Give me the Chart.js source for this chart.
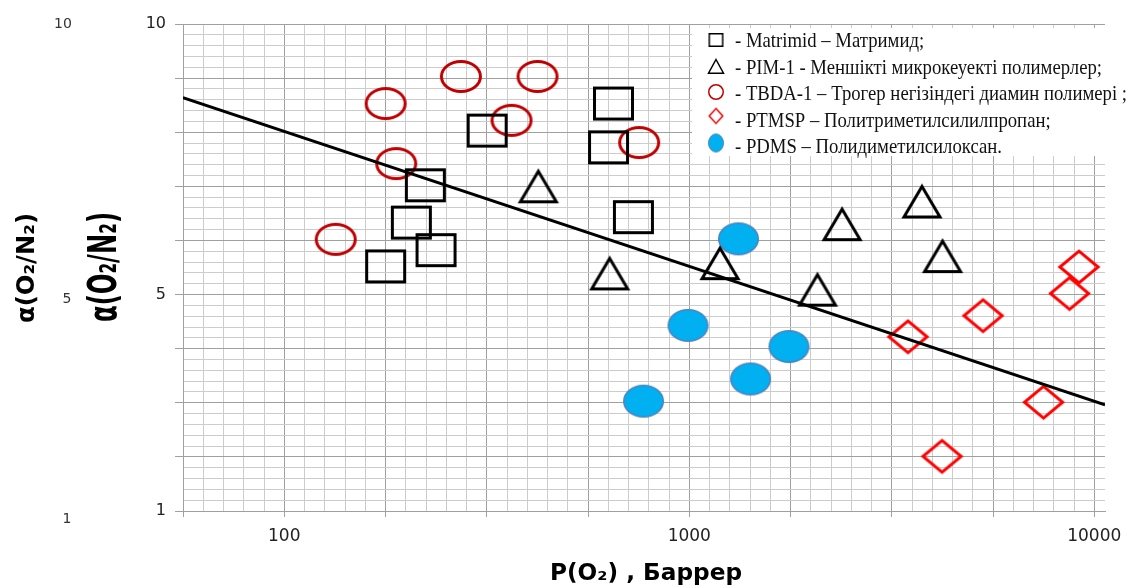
<!DOCTYPE html>
<html>
<head>
<meta charset="utf-8">
<script src="https://cdn.jsdelivr.net/npm/chart.js@4"></script>
<style>
  html, body { margin: 0; padding: 0; background: #fff; }
</style>
</head>
<body>
<canvas id="myChart" width="1135" height="588"></canvas>
<script>
// Деректер: P(O2), Баррер және α(O2/N2)
const matrimidP = [317, 223, 206, 237, 178, 650, 632, 728];
const matrimidA = [8.03, 7.02, 6.33, 5.82, 5.52, 8.53, 7.72, 6.43];
const pimP = [424, 636, 1191, 2384, 2073, 3755, 4220];
const pimA = [7.01, 5.40, 5.59, 6.31, 5.10, 6.73, 5.72];
const tbdaP = [178, 273, 422, 364, 189, 134, 752];
const tbdaA = [8.53, 9.03, 9.03, 8.22, 7.42, 6.02, 7.81];
const ptmspP = [3468, 5313, 9168, 8687, 7493, 4208];
const ptmspA = [4.22, 4.61, 5.51, 5.02, 3.01, 2.01];
const pdmsP = [1323, 993, 1763, 1417, 771];
const pdmsA = [6.03, 4.43, 4.04, 3.44, 3.03];
const trendP = [56.2, 10630];
const trendA = [8.64, 2.96];

const xTickLabels = [100, 1000, 10000];
const yTickLabels = [1, 5, 10];
const legendNames = [
  '- Matrimid – Матримид;',
  '- PIM-1 - Меншікті микрокеуекті полимерлер;',
  '- TBDA-1 – Трогер негізіндегі диамин полимері ;',
  '- PTMSP – Политриметилсилилпропан;',
  '- PDMS – Полидиметилсилоксан.'
];

const X_MIN = Math.pow(10, 1.75);
const X_MAX = Math.pow(10, 4.0265);

// маркерлер
function makeMarker(kind, w, h, lw, stroke, fill) {
  const pad = 4;
  const c = document.createElement('canvas');
  c.width = w + pad * 2;
  c.height = h + pad * 2;
  const g = c.getContext('2d');
  g.lineWidth = lw;
  g.strokeStyle = stroke;
  g.lineJoin = 'miter';
  const x0 = pad, y0 = pad, x1 = pad + w, y1 = pad + h;
  const cx = (x0 + x1) / 2, cy = (y0 + y1) / 2, i = lw / 2;
  g.beginPath();
  if (kind === 'rect') g.rect(x0 + i, y0 + i, w - lw, h - lw);
  else if (kind === 'ellipse') g.ellipse(cx, cy, w / 2 - i, h / 2 - i, 0, 0, Math.PI * 2);
  else if (kind === 'triangle') {
    g.moveTo(cx, y0 + lw);
    g.lineTo(x1 - lw, y1 - i);
    g.lineTo(x0 + lw, y1 - i);
    g.closePath();
  } else if (kind === 'diamond') {
    g.moveTo(cx, y0 + lw * 0.7);
    g.lineTo(x1 - lw * 0.8, cy);
    g.lineTo(cx, y1 - lw * 0.7);
    g.lineTo(x0 + lw * 0.8, cy);
    g.closePath();
  }
  if (fill) { g.fillStyle = fill; g.fill(); }
  if (lw > 0) g.stroke();
  return c;
}

const RED_DARK = '#c00000';
const RED = '#ff0000';
const BLUE = '#00b0f0';

const mSquare = makeMarker('rect', 41, 34, 3, '#000');
const mTri = makeMarker('triangle', 42, 35, 3, '#000');
const mCircle = makeMarker('ellipse', 42, 33, 3, RED_DARK);
const mDiamond = makeMarker('diamond', 43, 36, 3, RED);
const mDot = makeMarker('ellipse', 41, 33, 1.5, '#4f81bd', BLUE);

const legendMarkers = [
  makeMarker('rect', 15, 14, 1.5, '#000'),
  makeMarker('triangle', 18, 16, 1.5, '#000'),
  makeMarker('ellipse', 16, 16, 1.5, RED_DARK),
  makeMarker('diamond', 16, 17, 1.5, RED),
  makeMarker('ellipse', 16, 19, 1, '#4f81bd', BLUE)
];

function pts(xs, ys) {
  return xs.map((x, i) => ({ x: x, y: ys[i] }));
}

// тор сызықтары
function xTicks() {
  const t = [];
  for (let k = 0; k <= 45; k++) t.push({ value: Math.pow(10, 1.75 + k * 0.05) });
  return t;
}
function yTicks() {
  const t = [];
  for (let k = 0; k <= 45; k++) t.push({ value: Math.round((1 + k * 0.2) * 10) / 10 });
  return t;
}
function xMajor(v) {
  const k = Math.round((Math.log10(v) - 1.75) / 0.05);
  return k % 5 === 0;
}
function yMajor(v) {
  return Math.abs(v - Math.round(v)) < 1e-6;
}

const MAJOR = '#a0a0a0';
const MINOR = '#cccccc';

function drawFit(g, text, font, cx, cy, len, sy, rot) {
  g.save();
  g.font = font;
  const mw = g.measureText(text).width;
  g.translate(cx, cy);
  if (rot) g.rotate(-Math.PI / 2);
  g.scale(len / mw, sy);
  g.textAlign = 'center';
  g.textBaseline = 'middle';
  g.fillText(text, 0, 0);
  g.restore();
}

const extraText = {
  id: 'extraText',
  afterDraw(chart) {
    const g = chart.ctx;
    g.save();
    g.fillStyle = '#000';
    // ось атаулары
    drawFit(g, 'P(O₂) , Баррер', 'bold 23px "DejaVu Sans"', 646, 574, 192, 1, false);
    drawFit(g, 'α(O₂/N₂)', 'bold 24px "DejaVu Sans"', 28, 268, 110, 1, true);
    drawFit(g, 'α(O₂/N₂)', 'bold 24px "DejaVu Sans"', 106, 267, 110, 1.65, true);
    // сол жақтағы қосымша белгілер
    g.fillStyle = '#333';
    g.font = '14px "DejaVu Sans"';
    g.textAlign = 'center';
    g.textBaseline = 'middle';
    g.fillText('10', 63, 24);
    g.fillText('5', 67, 299);
    g.fillText('1', 67, 519);

    // аңыз
    g.fillStyle = '#fff';
    g.fillRect(692, 28, 443, 128);
    const rows = [40, 66, 92, 116, 143];
    const base = [47, 73.5, 100, 126.5, 153];
    g.fillStyle = '#111';
    g.font = '19px "Liberation Serif"';
    g.textAlign = 'left';
    g.textBaseline = 'alphabetic';
    legendNames.forEach((name, i) => {
      const m = legendMarkers[i];
      g.drawImage(m, 716 - m.width / 2, rows[i] - m.height / 2);
      g.save();
      g.translate(735, base[i]);
      g.scale(0.985, 1.08);
      g.fillText(name, 0, 0);
      g.restore();
    });
    g.restore();
  }
};

const ctx = document.getElementById('myChart').getContext('2d');

const chart = new Chart(ctx, {
  type: 'scatter',
  data: {
    datasets: [
      { label: 'trend', type: 'line', data: pts(trendP, trendA), borderColor: '#000', borderWidth: 3, pointRadius: 0, showLine: true, fill: false },
      { label: 'Matrimid', data: pts(matrimidP, matrimidA), pointStyle: mSquare, pointRadius: 20 },
      { label: 'PIM-1', data: pts(pimP, pimA), pointStyle: mTri, pointRadius: 20 },
      { label: 'TBDA-1', data: pts(tbdaP, tbdaA), pointStyle: mCircle, pointRadius: 20 },
      { label: 'PTMSP', data: pts(ptmspP, ptmspA), pointStyle: mDiamond, pointRadius: 20 },
      { label: 'PDMS', data: pts(pdmsP, pdmsA), pointStyle: mDot, pointRadius: 20 }
    ]
  },
  options: {
    responsive: false,
    animation: false,
    devicePixelRatio: 1,
    layout: { padding: { top: 24, right: 30, left: 0, bottom: 0 } },
    plugins: { legend: { display: false }, tooltip: { enabled: false } },
    scales: {
      x: {
        type: 'logarithmic',
        min: X_MIN,
        max: X_MAX,
        bounds: 'data',
        afterBuildTicks: (s) => { s.ticks = xTicks(); },
        afterFit: (s) => { s.height = 77; },
        grid: {
          color: (c) => xMajor(c.tick.value) ? MAJOR : MINOR,
          tickColor: (c) => xMajor(c.tick.value) ? MAJOR : 'rgba(0,0,0,0)',
          tickLength: 6
        },
        border: { color: MAJOR },
        ticks: {
          autoSkip: false,
          maxRotation: 0,
          padding: 9,
          color: '#222',
          font: { family: 'DejaVu Sans', size: 17 },
          callback: (v) => {
            const r = xTickLabels.find(t => Math.abs(t - v) < 1e-6 * t);
            return r ? String(r) : '';
          }
        }
      },
      y: {
        type: 'linear',
        min: 1,
        max: 10,
        bounds: 'data',
        afterBuildTicks: (s) => { s.ticks = yTicks(); },
        afterFit: (s) => { s.width = 183; },
        grid: {
          color: (c) => yMajor(c.tick.value) ? MAJOR : MINOR,
          tickColor: (c) => yMajor(c.tick.value) ? MAJOR : 'rgba(0,0,0,0)',
          tickLength: 8
        },
        border: { color: MAJOR },
        ticks: {
          autoSkip: false,
          padding: 9,
          color: '#222',
          font: { family: 'DejaVu Sans', size: 16 },
          callback: (v) => yTickLabels.includes(v) ? String(v) : ''
        }
      }
    }
  },
  plugins: [extraText]
});
</script>
</body>
</html>
